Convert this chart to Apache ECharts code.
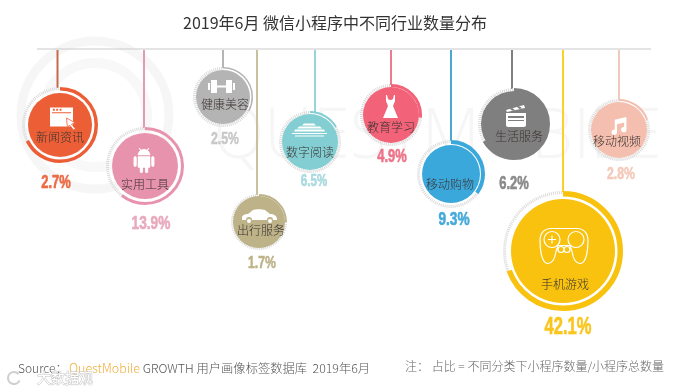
<!DOCTYPE html>
<html>
<head>
<meta charset="utf-8">
<style>
	html, body { margin: 0; padding: 0; background: #fff; }
	#main { width: 693px; height: 391px; }
</style>
<script src="https://cdn.jsdelivr.net/npm/echarts@6/dist/echarts.min.js"></script>
</head>
<body>
<div id="main"></div>
<script>
// values
const categories = ['新闻资讯', '实用工具', '健康美容', '出行服务', '数字阅读', '教育学习', '移动购物', '生活服务', '手机游戏', '移动视频'];
const shares = [2.7, 13.9, 2.5, 1.7, 6.5, 4.9, 9.3, 6.2, 42.1, 2.8];

// layout, in axis units (the axes run over the whole canvas)
const bubbleX = [60, 145, 223, 259, 310, 391, 451, 514, 563, 619];
const bubbleY = [125, 166, 97, 222, 142, 115, 174, 124, 251, 130];
const threadX = [57.5, 144, 223, 257, 315, 391, 451, 512, 563, 619];
const outerR = [38, 39, 30, 28, 31, 31, 34, 36, 60, 31];
const discR = [32, 33, 27, 26, 28, 28, 29, 33, 52, 28];
const arcWidth = [3.5, 3, 1.5, 2, 2, 3, 4, 4, 5.5, 2];
const arcSweep = [244, 218, 118, 90, 60, 95, 126, 240, 250, 70];
const labelPos = [[60, 137], [145, 184], [225, 104], [261, 230], [310, 152], [391, 127], [450, 184], [519, 136], [565, 284], [617, 141]];
const pctPos = [[56, 183], [151, 224], [225, 139], [262, 263], [314, 182], [392, 157], [454, 220], [514, 184], [568, 328], [621, 174]];
const pctSize = [18, 19, 17, 17, 16, 18, 19, 18, 23, 17];

const discColors = ['#ec5f36', '#e893ae', '#b4b4b4', '#bdb288', '#83ced3', '#f2637a', '#3ba8dc', '#7f7f7f', '#f8c20f', '#f4bfae'];
const threadColors = ['#c9694b', '#e39bb0', '#b5b5b5', '#c9c19c', '#9ad4d9', '#ea7d8d', '#4aa9d2', '#7f7f7f', '#fcd02b', '#eecabd'];
const pctColors = ['#ec6a45', '#e9a9bd', '#c8c8c8', '#bdb288', '#a9d9de', '#ee7389', '#45a9da', '#8a8a8a', '#f9c51e', '#f3c9ba'];

const iconBoxes = [[50, 107, 23, 20], [133, 148, 22, 25], [208, 80, 27, 13], [242, 209, 35, 14], [292, 123, 35, 14], [383, 95, 15, 23], null, [506, 105, 20, 22], [540, 228, 48, 36], [610, 117, 18, 18]];
const iconPaths = [
	'M0 0H24V20H0Z M2 5V6H22V5Z M3 1.5V3.5H5V1.5Z M6.5 1.5V3.5H8.5V1.5Z M10 1.5V3.5H12V1.5Z',
	'M6 18c0 .55.45 1 1 1h1v3.5c0 .83.67 1.5 1.5 1.5s1.5-.67 1.5-1.5V19h2v3.5c0 .83.67 1.5 1.5 1.5s1.5-.67 1.5-1.5V19h1c.55 0 1-.45 1-1V8H6v10zM3.5 8C2.67 8 2 8.67 2 9.5v7c0 .83.67 1.5 1.5 1.5S5 17.33 5 16.5v-7C5 8.67 4.33 8 3.5 8zm17 0c-.83 0-1.5.67-1.5 1.5v7c0 .83.67 1.5 1.5 1.5s1.5-.67 1.5-1.5v-7c0-.83-.67-1.5-1.5-1.5zm-4.97-5.84l1.3-1.3c.2-.2.2-.51 0-.71-.2-.2-.51-.2-.71 0l-1.48 1.48C13.85 1.23 12.95 1 12 1c-.96 0-1.86.23-2.66.63L7.85.15c-.2-.2-.51-.2-.71 0-.2.2-.2.51 0 .71l1.31 1.31C6.97 3.26 6 5.01 6 7h12c0-1.99-.97-3.75-2.47-4.84z',
	'M0 3H2V10H0Z M3 0H9V13H3Z M9 5.5H18V7.5H9Z M18 0H24V13H18Z M25 3H27V10H25Z',
	'M0 9C0 6 3 5 6 5L11 1C13 0 20 0 23 1L28 5C32 5 35 7 35 10L35 11L31 11A3 3 0 0 0 25 11L10 11A3 3 0 0 0 4 11L0 11Z M5 12a2 2 0 1 0 4 0a2 2 0 1 0-4 0Z M26 12a2 2 0 1 0 4 0a2 2 0 1 0-4 0Z',
	'M12 0H22L24 2H10Z M7 3H28L30 5H5Z M3 6H32L33 8H2Z M0 9.5H35V10.5H0Z M3 12H32V13H3Z',
	'M4 0L5 4Q7.5 6 10 4L11 0L12 0L12 6L10 11L15 23H0L5 11L3 6L3 0Z',
	'',
	'M0 8H20V20Q20 22 18 22H2Q0 22 0 20Z M2 11V13H18V11Z M2 15V16H18V15Z M0 5L18 0L19 3L1 7Z M4 3.9L6.5 5.9L9 5.2L6.5 3.2Z M11 2L13.5 4L16 3.3L13.5 1.3Z',
	'M11 1H37C44 1 48 6 48 13C48 20 47 36 40 36C35 36 33 30 32 24L30 18H18L16 24C15 30 13 36 8 36C1 36 0 20 0 13C0 6 4 1 11 1Z M4 12a8 8 0 1 0 16 0a8 8 0 1 0-16 0Z M28 12a8 8 0 1 0 16 0a8 8 0 1 0-16 0Z M8 12H16 M12 8V16 M18 22a3 3 0 1 0 6 0a3 3 0 1 0-6 0Z M24 22a3 3 0 1 0 6 0a3 3 0 1 0-6 0Z',
	'M5 3L18 0V14A3 3 0 1 1 15.5 11V6L7.5 8V17A3 3 0 1 1 5 14Z'
];
const outlineIcon = 8;

const CJK = '"Noto Sans CJK SC", "Noto Sans", sans-serif';
const ruleTop = 49;

function renderBubble(params, api) {
	const i = params.dataIndex;
	const p = api.coord([api.value(0), api.value(1)]);
	const top = api.coord([threadX[i], ruleTop + 1]);
	const R = outerR[i];
	const w = arcWidth[i];
	const start = -Math.PI / 2;
	const end = start + arcSweep[i] * Math.PI / 180;
	const children = [
		{
			type: 'line',
			shape: { x1: top[0], y1: top[1], x2: top[0], y2: p[1] - R + 1 },
			style: { stroke: threadColors[i], lineWidth: 2 }
		},
		{
			type: 'arc',
			shape: { cx: p[0], cy: p[1], r: R - 1.5, startAngle: end, endAngle: start + Math.PI * 2, clockwise: true },
			style: { fill: null, stroke: '#d9d9d9', lineWidth: 3, lineDash: [1, 1] }
		},
		{
			type: 'arc',
			shape: { cx: p[0], cy: p[1], r: R - w / 2, startAngle: start, endAngle: end, clockwise: true },
			style: { fill: null, stroke: discColors[i], lineWidth: w }
		},
		{
			type: 'circle',
			shape: { cx: p[0], cy: p[1], r: discR[i] },
			style: { fill: discColors[i] }
		}
	];
	if (iconBoxes[i]) {
		const b = iconBoxes[i];
		const tl = api.coord([b[0], b[1]]);
		children.push({
			type: 'path',
			shape: { pathData: iconPaths[i], x: tl[0], y: tl[1], width: b[2], height: b[3] },
			style: i === outlineIcon
				? { fill: null, stroke: '#fff', lineWidth: 1.2 }
				: { fill: '#fff' }
		});
	}
	if (i === 0) {
		// the cursor over the browser window
		const c = api.coord([66, 118]);
		children.push({
			type: 'path',
			shape: { pathData: 'M0 0L9 5L5 6L9 11L7 12L3 7L1 10Z', x: c[0], y: c[1], width: 10, height: 12 },
			style: { fill: '#fff', stroke: discColors[0], lineWidth: 0.8 }
		});
	}
	const lp = api.coord(labelPos[i]);
	const pp = api.coord(pctPos[i]);
	children.push({
		type: 'text',
		x: lp[0],
		y: lp[1],
		style: {
			text: categories[i],
			fontFamily: CJK,
			fontSize: 12,
			fontWeight: 300,
			fill: '#3b3330',
			align: 'center',
			verticalAlign: 'middle'
		}
	});
	// the percent figures are a condensed heavy face, so squeeze a bold one
	children.push({
		type: 'text',
		x: pp[0],
		y: pp[1],
		scaleX: 0.72,
		style: {
			text: shares[i] + '%',
			fontFamily: '"Liberation Sans", sans-serif',
			fontSize: pctSize[i],
			fontWeight: 'bold',
			fill: pctColors[i],
			stroke: pctColors[i],
			lineWidth: 0.6,
			align: 'center',
			verticalAlign: 'middle'
		}
	});
	return { type: 'group', children: children };
}

const myChart = echarts.init(document.getElementById('main'));

myChart.setOption({
	animation: false,
	backgroundColor: '#fff',
	title: [
		{
			text: '2019年6月 微信小程序中不同行业数量分布',
			left: 178,
			top: 10,
			textStyle: { fontFamily: CJK, fontSize: 16, fontWeight: 400, color: '#333' }
		},
		{
			text: '{s|Source：}{q|QuestMobile}{a| GROWTH 用户画像标签数据库  2019年6月}',
			left: 13,
			top: 357,
			textStyle: {
				rich: {
					s: { fontFamily: CJK, fontSize: 12, fontWeight: 300, color: '#555', width: 51 },
					a: { fontFamily: CJK, fontSize: 12.3, fontWeight: 300, color: '#555' },
					q: { fontFamily: CJK, fontSize: 12.5, fontWeight: 300, color: '#efae3c' }
				}
			}
		},
		{
			text: '注： 占比 = 不同分类下小程序数量/小程序总数量',
			left: 400,
			top: 355,
			textStyle: { fontFamily: CJK, fontSize: 12, fontWeight: 300, color: '#666' }
		}
	],
	grid: { left: 0, right: 0, top: 0, bottom: 0 },
	xAxis: { type: 'value', min: 0, max: 693, show: false },
	yAxis: { type: 'value', min: 0, max: 391, inverse: true, show: false },
	graphic: [
		{ type: 'circle', z: 0, shape: { cx: 95, cy: 115, r: 74 }, style: { fill: null, stroke: '#f6f6f6', lineWidth: 9 } },
		{ type: 'circle', z: 0, shape: { cx: 95, cy: 115, r: 52 }, style: { fill: null, stroke: '#f8f8f8', lineWidth: 10 } },
		{
			type: 'text',
			z: 0,
			x: 213,
			y: 138,
			scaleX: 0.96,
			style: { text: 'QUESTMOBILE', fontFamily: '"Open Sans", sans-serif', fontWeight: 300, fontSize: 70, fill: '#f6f6f6', verticalAlign: 'middle' }
		},
		{
			type: 'text',
			z: 10,
			x: 37,
			y: 371,
			style: { text: '大数据观', fontFamily: CJK, fontSize: 14, fill: '#fff', stroke: '#c4c4c4', lineWidth: 1 }
		},
		{
			type: 'arc',
			z: 10,
			shape: { cx: 14, cy: 378, r: 6, startAngle: 0.4, endAngle: 5.6, clockwise: true },
			style: { fill: null, stroke: '#cfcfcf', lineWidth: 2 }
		},
		{
			type: 'line',
			z: 1,
			shape: { x1: 37, y1: ruleTop, x2: 651, y2: ruleTop },
			style: { stroke: '#c9c9c9', lineWidth: 1 }
		}
	],
	series: [
		{
			type: 'custom',
			coordinateSystem: 'cartesian2d',
			clip: false,
			silent: true,
			renderItem: renderBubble,
			data: bubbleX.map((x, i) => [x, bubbleY[i], shares[i]])
		}
	]
});
</script>
</body>
</html>
